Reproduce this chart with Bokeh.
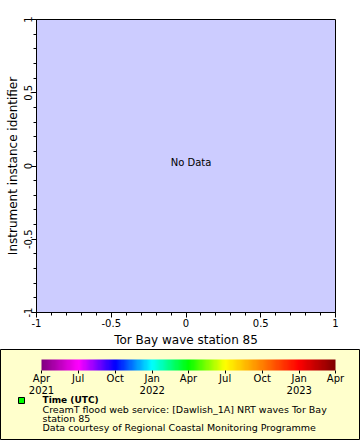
from datetime import datetime, timezone

from bokeh.embed import file_html
from bokeh.models import (ColorBar, ColumnDataSource, FixedTicker, Label,
                          LinearColorMapper, NumeralTickFormatter,
                          Range1d, SingleIntervalTicker)
from bokeh.plotting import figure
from bokeh.resources import INLINE

# ---------------- data (the query returned no rows) ----------------
station_values = []        # Tor Bay wave station 85
instrument_ids = []        # Instrument instance identifier
time_values = []           # Time (UTC)
x_limits = (-1, 1)
y_limits = (-1, 1)
x_title = "Tor Bay wave station 85"
y_title = "Instrument instance identifier"
no_data_text = "No Data"

time_start = "2021-04-01"
time_end = "2023-04-01"
time_ticks = ["2021-04-01", "2021-07-01", "2021-10-01", "2022-01-01", "2022-04-01",
              "2022-07-01", "2022-10-01", "2023-01-01", "2023-04-01"]
time_tick_labels = ["Apr\n2021", "Jul", "Oct", "Jan\n2022", "Apr", "Jul", "Oct",
                    "Jan\n2023", "Apr"]
palette_stops = ["#800080", "#FF00FF", "#0000FF", "#00FFFF", "#00FF00",
                 "#FFFF00", "#FF8000", "#FF0000", "#800000"]
marker_color = "#00FF00"
legend_title = "Time (UTC)"
legend_lines = ["CreamT flood web service: [Dawlish_1A] NRT waves Tor Bay",
                "station 85",
                "Data courtesy of Regional Coastal Monitoring Programme"]

FONT = "DejaVu Sans"


def to_ms(s):
    return int(datetime.strptime(s, "%Y-%m-%d").replace(tzinfo=timezone.utc).timestamp() * 1000)


def interp_palette(stops, n=256):
    rgb = [tuple(int(c[i:i + 2], 16) for i in (1, 3, 5)) for c in stops]
    out = []
    segs = len(rgb) - 1
    for k in range(n):
        t = k / (n - 1) * segs
        i = min(int(t), segs - 1)
        f = t - i
        a, b = rgb[i], rgb[i + 1]
        out.append("#%02x%02x%02x" % tuple(round(a[j] + (b[j] - a[j]) * f) for j in range(3)))
    return out


source = ColumnDataSource(dict(x=station_values, y=instrument_ids, t=time_values))

# ---------------- main plot ----------------
p = figure(width=360, height=349, x_range=Range1d(*x_limits), y_range=Range1d(*y_limits),
           output_backend="svg", toolbar_location=None,
           min_border_left=36, min_border_right=25, min_border_top=19, min_border_bottom=37,
           background_fill_color="#CCCCFF", border_fill_color="white",
           outline_line_color="black", outline_line_width=1)
p.grid.visible = False
p.scatter(x="x", y="y", source=source, marker="square", size=6,
          fill_color=marker_color, line_color="black")

for ax in (p.xaxis[0], p.yaxis[0]):
    ax.ticker = SingleIntervalTicker(interval=0.5, num_minor_ticks=5)
    ax.formatter = NumeralTickFormatter(format="0.[0]")
    ax.axis_line_color = "black"
    ax.major_tick_line_color = "black"
    ax.minor_tick_line_color = "black"
    ax.major_tick_in = 0
    ax.major_tick_out = 5
    ax.minor_tick_in = 0
    ax.minor_tick_out = 3
    ax.major_label_text_font = FONT
    ax.major_label_text_font_size = "10px"
    ax.major_label_text_color = "black"
    ax.axis_label_text_font = FONT
    ax.axis_label_text_font_size = "12px"
    ax.axis_label_text_font_style = "normal"
    ax.axis_label_text_color = "black"

p.xaxis.axis_label = x_title
p.xaxis.major_label_standoff = 1
p.xaxis.axis_label_standoff = 3
p.yaxis.axis_label = y_title
p.yaxis.major_label_orientation = "vertical"
p.yaxis.major_label_standoff = 0
p.yaxis.axis_label_standoff = 1

p.add_layout(Label(x=0, y=0, text=no_data_text, text_align="center", text_baseline="middle",
                   x_offset=5, y_offset=4, text_font=FONT, text_font_size="10px",
                   text_color="black"))

# ---------------- legend box (coordinates are pixels inside the box) ----------------
b = figure(width=360, height=91, x_range=Range1d(0, 360), y_range=Range1d(0, 91),
           output_backend="svg", toolbar_location=None, min_border=0,
           min_border_left=0, min_border_right=0, min_border_top=0, min_border_bottom=0,
           x_axis_type=None, y_axis_type=None,
           background_fill_color="#FFFFCC", border_fill_color="#FFFFCC",
           outline_line_color="black", outline_line_width=1)
b.grid.visible = False

tick_ms = [to_ms(t) for t in time_ticks]
mapper = LinearColorMapper(palette=interp_palette(palette_stops), low=to_ms(time_start),
                           high=to_ms(time_end))
cb = ColorBar(color_mapper=mapper, orientation="horizontal", width=294, height=11,
              location=(41, 42), padding=0, margin=0,
              ticker=FixedTicker(ticks=tick_ms),
              major_label_overrides=dict(zip(tick_ms, time_tick_labels)),
              major_tick_in=0, major_tick_out=3, major_tick_line_color="black",
              minor_tick_line_color=None, bar_line_color=None, border_line_color=None,
              background_fill_alpha=0, label_standoff=-1,
              major_label_text_font=FONT, major_label_text_font_size="10px",
              major_label_text_line_height=1.1,
              major_label_text_color="black")
b.add_layout(cb, "center")

# legend key swatch for the (empty) time-coloured series
b.scatter(x=[21], y=[40], marker="square", size=6, fill_color=marker_color,
          line_color="black", line_width=1)
b.add_layout(Label(x=42, y=41, text=legend_title, text_baseline="middle", text_align="left",
                   text_font=FONT, text_font_size="9px", text_font_style="bold",
                   text_color="black"))

line_y = [31, 22, 13]
for txt, yy in zip(legend_lines, line_y):
    b.add_layout(Label(x=42, y=yy, text=txt, text_baseline="middle", text_align="left",
                       text_font=FONT, text_font_size="9.5px", text_color="black"))

open("out.html", "w").write(file_html([p, b], INLINE))
